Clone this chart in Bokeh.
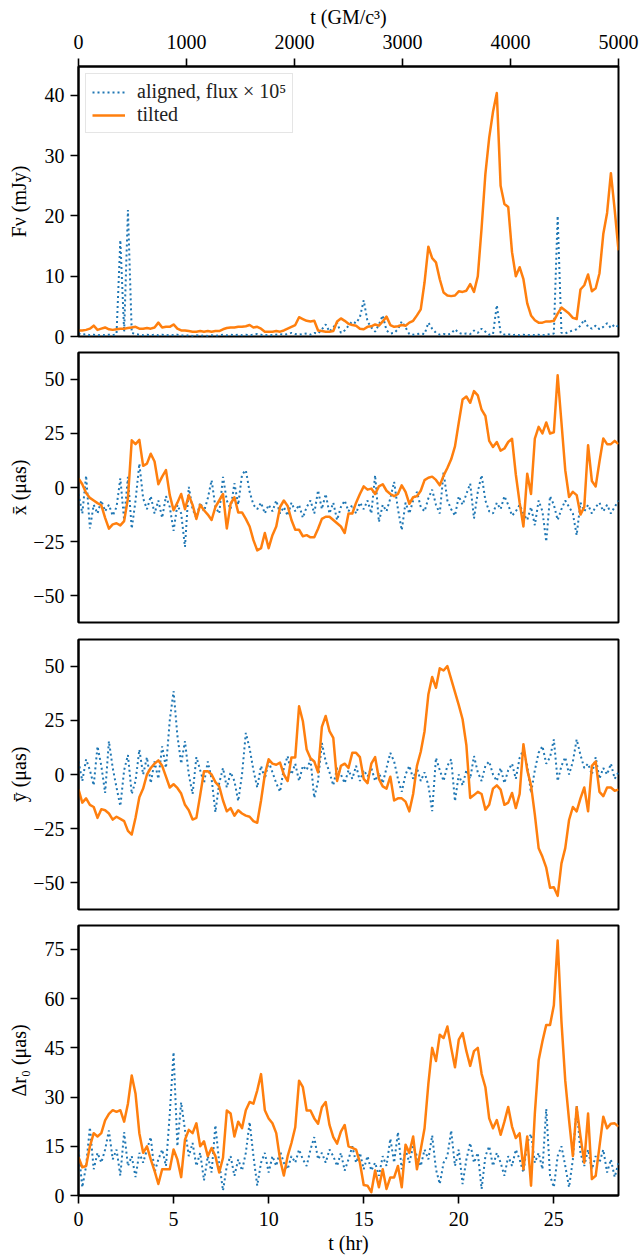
from bokeh.plotting import figure
from bokeh.layouts import column
from bokeh.models import Range1d, LinearAxis, FixedTicker, CustomJSTickFormatter
from bokeh.embed import file_html
from bokeh.resources import INLINE

# ---------------- data (sampled every 0.2 hr, t = 0 ... 28.4 hr) ----------------
DT_HR = 0.2
T_MAX_HR = 28.4
T_MAX_M = 5000  # GM/c^3

HR_TICKS = [0, 5, 10, 15, 20, 25]
M_TICKS = [0, 1000, 2000, 3000, 4000, 5000]
F_TICKS = [0, 10, 20, 30, 40]
XY_TICKS = [-50, -25, 0, 25, 50]
R_TICKS = [0, 15, 30, 45, 60, 75]

# F_nu (mJy)
F_TILTED = [
    1.0, 1.0, 1.1, 1.3, 1.8, 1.1, 1.3, 1.5, 1.2, 1.1,
    1.2, 1.3, 1.3, 1.4, 1.5, 1.6, 1.3, 1.3, 1.4, 1.3,
    1.5, 2.3, 1.5, 1.6, 1.6, 2.0, 1.3, 1.0, 1.0, 0.9,
    0.8, 0.8, 0.9, 0.8, 0.9, 0.8, 0.9, 0.9, 1.2, 1.4,
    1.5, 1.5, 1.6, 1.6, 1.7, 1.9, 1.5, 1.6, 1.3, 0.8,
    0.8, 0.8, 0.9, 0.8, 1.0, 1.3, 1.6, 1.9, 3.2, 2.9,
    2.6, 2.5, 2.6, 1.0, 0.9, 0.8, 0.8, 0.9, 2.5, 3.0,
    2.6, 2.1, 1.9, 1.8, 1.3, 1.2, 1.6, 1.7, 2.0, 1.8,
    2.5, 3.3, 1.9, 1.6, 1.7, 1.9, 1.8, 2.3, 2.6, 3.5,
    4.5, 9.0, 14.9, 13.0, 12.3, 9.5, 7.3, 6.8, 6.7, 6.8,
    7.5, 7.4, 7.6, 8.7, 7.4, 10.0, 18.0, 27.0, 33.0, 37.3,
    40.4, 25.0, 22.0, 21.5, 14.0, 10.0, 11.5, 9.5, 5.5, 3.5,
    2.7, 2.3, 2.3, 2.5, 2.5, 2.6, 3.8, 4.8, 4.3, 3.8,
    3.1, 2.9, 7.8, 8.5, 10.3, 7.5, 8.0, 10.5, 17.0, 20.5,
    27.1, 21.0, 14.3,
]
F_ALIGNED_X1E5 = [
    0.5, 0.3, 0.4, 0.2, 0.3, 0.2, 0.3, 0.2, 0.3, 0.2,
    0.4, 16.0, 0.8, 21.0, 0.6, 0.4, 0.3, 0.2, 0.3, 0.2,
    0.3, 0.2, 0.3, 0.2, 0.3, 0.2, 0.3, 0.2, 0.1, 0.2,
    0.1, 0.2, 0.1, 0.2, 0.1, 0.2, 0.1, 0.2, 0.3, 0.2,
    0.3, 0.2, 0.3, 0.2, 0.3, 0.2, 0.3, 0.4, 0.3, 0.2,
    0.3, 0.2, 0.3, 0.4, 0.3, 0.4, 0.6, 0.4, 0.3, 0.4,
    0.5, 0.3, 0.6, 0.5, 1.2, 2.0, 0.8, 1.5, 2.3, 0.6,
    1.0, 1.8, 2.5, 2.2, 3.2, 6.0, 2.5, 1.5, 0.8, 2.0,
    3.5, 1.0, 0.5, 0.6, 1.2, 2.5, 1.5, 0.4, 0.3, 0.4,
    0.5, 0.4, 2.3, 1.3, 0.6, 0.3, 0.4, 0.3, 0.5, 1.2,
    0.6, 0.4, 0.5, 0.4, 1.0, 0.6, 1.3, 0.8, 0.3, 0.4,
    5.2, 0.6, 0.3, 0.4, 0.2, 0.3, 0.2, 0.3, 0.2, 0.3,
    0.2, 0.3, 0.2, 0.3, 0.4, 0.5, 20.0, 0.6, 0.5, 0.8,
    1.0, 1.2, 1.8, 2.8, 1.6, 1.3, 1.8, 1.2, 1.6, 2.2,
    1.4, 2.0, 1.6,
]

# x-bar (micro-arcsec)
X_TILTED = [
    4.2, 1.5, -2.5, -4.8, -6.0, -7.2, -8.2, -14.0, -19.0, -17.0,
    -16.5, -17.5, -15.5, -5.0, 21.8, 20.0, 22.0, 10.0, 11.0, 15.6,
    12.0, 1.5, 5.0, 8.0, -3.5, -10.5, -7.0, -3.0, -10.0, -3.5,
    -8.0, -14.5, -8.0, -10.5, -12.5, -15.0, -9.0, -6.0, -3.0, -18.9,
    -7.5, -4.5, -11.5, -11.5, -14.5, -18.0, -24.3, -29.0, -28.0, -21.0,
    -28.0, -22.0, -18.0, -9.0, -6.0, -8.5, -15.0, -19.5, -19.5, -22.5,
    -22.0, -23.0, -23.0, -19.0, -14.5, -13.5, -13.5, -15.0, -16.5, -18.0,
    -21.0, -12.0, -12.0, -7.0, -3.0, 0.5, -1.0, -0.5, -3.0, 0.5,
    1.5, -1.5, -3.0, -4.0, -3.0, 1.0, -2.0, -7.5, -4.5, -4.0,
    -1.5, 3.4, 4.5, 5.0, 3.5, 1.0, 5.5, 9.0, 13.0, 19.0,
    30.0, 40.6, 42.0, 39.1, 44.5, 42.5, 35.9, 33.0, 21.5, 18.7,
    21.0, 17.0, 18.0, 21.0, 22.5, 6.0, -7.0, -18.0, 6.4, -3.0,
    22.6, 28.0, 25.0, 30.0, 24.9, 25.5, 51.8, 30.0, 8.0, -4.4,
    -2.0, -3.5, -12.5, -9.0, 19.5, 3.0, 0.5, 12.0, 22.6, 20.0,
    20.0, 21.5, 20.0,
]
X_ALIGNED = [
    -3, -12, 5.5, -18.9, -8, -12, -6, -11, -8, -13,
    -9, 4.2, -15, 4.9, -19, -6, 11.0, -5, -10, -4,
    -12, -6, -14, -4, -9, -20, -8, -12, -27.4, 0.3,
    -10, -14, -7, -11, -5, 3.4, -9, -12, 4.9, -6,
    -10, 2, -8, 6, 8, -2, -8, -10, -7, -12,
    -8, -11, -6, -12, -9, -13, -7, -11, -8, -14,
    -9, -6, -12, -1.3, -10, -3, -12, -7, -15, -9,
    -6, -11, -8, -12, -7, -10, -6, -12, 5.7, -15.9,
    -8, -11, -5, 2.6, -10, -19.7, -7, -12, -6, -2,
    -9, -11, -5, -1, -8, -12, 7.1, -6, -10, -13,
    -4, -8, -3, 1.8, -14.3, -2, 5.7, -6, -11, -12,
    -7, -10, -4, -8, -13, -11, -8, -12, -15, -9,
    -17.4, -6, -11, -25, -4, -8, -15, -10, -6, -9,
    -12, -22, -7, -11, -8, -12, -9, -7, -11, -8,
    -12, -9, -6,
]

# y-bar (micro-arcsec)
Y_TILTED = [
    -6.9, -13.0, -11.0, -14.0, -15.0, -20.0, -16.0, -16.5, -18.0, -20.8,
    -19.5, -20.5, -21.5, -26.0, -27.7, -20.0, -10.5, -6.5, 0.0, 3.0,
    5.0, 6.5, 4.0, -1.0, -6.0, -4.5, -6.2, -8.8, -14.0, -16.5,
    -20.8, -20.0, -9.5, 1.5, 1.5, 0.0, -3.5, -5.5, -12.0, -17.0,
    -15.5, -19.0, -16.5, -18.0, -19.0, -19.5, -21.5, -22.3, -12.0, 0.0,
    7.0, 5.0, 4.5, 5.5, 0.0, -3.0, 7.9, 7.9, 31.5, 24.6,
    11.5, 7.5, 6.0, 1.0, 22.0, 27.0, 20.0, 16.9, -3.0, 4.0,
    5.0, 3.0, 10.0, 10.0, 8.0, -2.0, -4.0, 5.0, 8.0, -2.0,
    -5.5, -6.5, -1.0, -12.0, -11.0, -11.0, -12.5, -17.0, -9.0, 4.0,
    10.5, 20.0, 36.9, 45.0, 40.0, 49.0, 48.0, 50.0, 44.0, 38.0,
    32.0, 25.5, 13.5, -10.8, -9.5, -8.0, -9.0, -16.2, -14.0, -6.5,
    -5.0, -7.0, -14.0, -13.0, -8.5, -15.5, -9.0, 14.0, 2.0, -5.0,
    -18.5, -34.0, -38.0, -43.0, -52.3, -52.0, -56.0, -41.0, -34.0, -21.0,
    -15.0, -17.0, -11.0, -6.0, -17.0, 4.0, 6.0, -8.0, -10.0, -6.0,
    -6.0, -7.5, -7.0,
]
Y_ALIGNED = [
    6, -3, 7, 2, -5, 13, 4, -8.5, 15.4, 3,
    -6, -14.6, 2, 9, -9, -3, 11.5, 0, 8, -4,
    6, -2, 13, 3, 25, 38.5, 18, 5, 15.4, 0,
    -9, 8, 2, -4, 6, -2, -17.4, -4, 3, -6,
    1, -3, -12.3, 0, 19.2, 12, 2, -6, 4, -2,
    6, 1, -4, -8, 3, 8.5, 0, 5, -3, 4,
    2, 7, -10.8, -3, 14.6, 6, 1, -5, 3, 0,
    -4, 2, -2, 4, -3, 2, -1, 3, -3, 1,
    -4, 3, 10, 6, -2, -8, 0, 4, -2, 3,
    -3, 1, -5, -16.9, 7.7, 2, -3, 4, 7, -12.3,
    0, -5, 2, -2, 8.5, 1, -3, 4, 6, 0,
    -3, 3, -4, 2, 5, -2, 7.7, 11.5, 4, -8.5,
    2, 10, 13.1, 5, 8, 16.2, -3, 4, 8, 0,
    6, 16.2, 9, 3, 5, 0, 8, -2, 3, 0,
    5, -2, 1,
]

# Delta r_0 (micro-arcsec)
R_TILTED = [
    11.7, 8.6, 9.0, 15.0, 19.0, 18.0, 19.0, 22.9, 24.9, 26.0,
    25.5, 26.0, 22.5, 28.0, 36.6, 31.0, 19.0, 13.0, 15.0, 11.0,
    7.5, 3.5, 8.0, 8.0, 8.0, 14.0, 11.0, 5.6, 17.0, 20.0,
    19.0, 22.0, 15.0, 16.5, 12.0, 14.5, 12.0, 7.0, 11.5, 25.9,
    25.0, 18.0, 22.5, 20.5, 26.0, 28.5, 28.0, 32.0, 37.0, 26.0,
    23.5, 22.0, 19.0, 11.0, 6.1, 12.0, 16.0, 20.8, 35.0, 33.0,
    25.9, 25.9, 23.5, 21.9, 26.9, 28.5, 21.5, 17.8, 15.8, 19.5,
    21.5, 15.0, 14.5, 14.0, 10.0, 3.2, 3.0, 1.0, 7.6, 2.5,
    8.0, 2.0, 5.5, 5.5, 9.0, 2.5, 15.5, 13.0, 18.0, 8.0,
    14.0, 20.5, 34.0, 45.0, 41.0, 49.0, 48.0, 51.5, 45.0, 39.1,
    47.5, 49.5, 44.0, 39.5, 44.0, 45.0, 37.1, 33.0, 23.5, 20.5,
    23.0, 18.5, 22.5, 27.0, 21.0, 17.5, 19.0, 8.0, 18.0, 3.0,
    25.0, 41.2, 47.0, 52.0, 52.0, 58.0, 77.7, 53.0, 35.0, 23.0,
    12.0, 26.9, 18.0, 10.0, 25.0, 5.0, 6.0, 15.0, 24.0, 20.5,
    21.9, 22.0, 21.0,
]
R_ALIGNED = [
    14, 2.5, 9, 20.8, 8, 13, 10, 14, 19.8, 11,
    14, 6.1, 19.3, 9, 12, 5.6, 13, 10, 14, 17.8,
    7, 11, 14, 9, 24.9, 43.7, 15, 28.4, 20, 12,
    16, 9, 13, 4.6, 12, 7, 21.4, 10, 1.5, 9,
    12, 6, 11, 7.6, 13, 22.4, 12, 3.0, 10, 13,
    7, 12, 9, 13.5, 10, 8, 12, 10, 14, 11,
    9, 14, 17.8, 11, 13, 10, 14, 12, 9, 13,
    7.6, 11, 15, 10, 13, 8, 12, 7.6, 10, 6,
    12, 9, 17.3, 10, 19.3, 8, 14, 10, 15, 12,
    9, 14, 11, 18.3, 8, 3.5, 10, 12, 19.8, 9,
    14, 3.5, 11, 16, 10, 13, 2.0, 12, 15, 9,
    13, 10, 6, 12, 9, 14, 11, 7, 16, 18.8,
    10, 13, 8, 26.4, 6, 2.5, 12, 15, 9, 2.5,
    11, 27.4, 13, 9, 14, 8, 12, 10, 14, 7,
    11, 5.6, 10,
]

LABEL_ALIGNED = "aligned, flux \u00d7 10\u2075"
LABEL_TILTED = "tilted"

# ---------------- styling ----------------
FONT = "Liberation Serif"
BLUE = "#1f77b4"
ORANGE = "#ff7f0e"
TICK_FS = "20px"
LABEL_FS = "20px"

MINUS_FMT = CustomJSTickFormatter(
    code="return tick < 0 ? '\u2212' + Math.abs(tick) : String(tick);")


def times(vals):
    return [round(DT_HR * i, 1) for i in range(len(vals))]


def style_axis(ax, label, label_standoff, tick_standoff=6):
    ax.axis_label = label
    ax.axis_label_text_font = FONT
    ax.axis_label_text_font_size = LABEL_FS
    ax.axis_label_text_font_style = "normal"
    ax.axis_label_text_color = "black"
    ax.axis_label_standoff = label_standoff
    ax.major_label_text_font = FONT
    ax.major_label_text_font_size = TICK_FS
    ax.major_label_text_color = "black"
    ax.major_label_standoff = tick_standoff
    ax.axis_line_color = "black"
    ax.axis_line_width = 2
    ax.major_tick_line_color = "black"
    ax.major_tick_line_width = 1.6
    ax.major_tick_out = 8
    ax.major_tick_in = 0
    ax.minor_tick_out = 0
    ax.minor_tick_in = 0


def make_fig(y_lo, y_hi, yticks, ylabel, ylabel_standoff, border_top, border_bottom,
             top=False, bottom=False):
    p = figure(frame_width=540, frame_height=270,
               output_backend="svg", toolbar_location=None,
               x_range=Range1d(0, T_MAX_HR), y_range=Range1d(y_lo, y_hi),
               x_axis_location="below" if bottom else None,
               min_border_left=78, min_border_right=24,
               min_border_top=border_top, min_border_bottom=border_bottom)
    p.outline_line_color = "black"
    p.outline_line_width = 2
    p.outline_line_alpha = 1
    p.background_fill_color = "white"
    p.border_fill_color = "white"
    for g in p.grid:
        g.visible = False
    ax = p.yaxis[0]
    ax.ticker = FixedTicker(ticks=yticks)
    ax.formatter = MINUS_FMT
    style_axis(ax, ylabel, ylabel_standoff)
    if bottom:
        bx = p.xaxis[0]
        bx.ticker = FixedTicker(ticks=HR_TICKS)
        style_axis(bx, "t (hr)", 3, tick_standoff=8)
    if top:
        p.extra_x_ranges = {"gm": Range1d(0, T_MAX_M)}
        tx = LinearAxis(x_range_name="gm", ticker=FixedTicker(ticks=M_TICKS))
        style_axis(tx, "t (GM/c\u00b3)", 4, tick_standoff=10)
        p.add_layout(tx, "above")
    return p


def add_series(p, aligned, tilted, legend=False):
    kw_a = dict(legend_label=LABEL_ALIGNED) if legend else {}
    kw_t = dict(legend_label=LABEL_TILTED) if legend else {}
    p.line(times(aligned), aligned, line_color=BLUE, line_width=2,
           line_dash="2 3", **kw_a)
    p.line(times(tilted), tilted, line_color=ORANGE, line_width=2.5,
           line_join="round", **kw_t)


p1 = make_fig(0, 44.8, F_TICKS, "F\u03bd (mJy)", 12, 66, 12, top=True)
add_series(p1, F_ALIGNED_X1E5, F_TILTED, legend=True)
lg = p1.legend[0]
lg.location = "top_left"
lg.margin = 7
lg.padding = 6
lg.spacing = 0
lg.glyph_width = 33
lg.glyph_height = 20
lg.label_height = 20
lg.label_standoff = 12
lg.label_text_font = FONT
lg.label_text_font_size = "20px"
lg.label_text_color = "#222222"
lg.border_line_color = "#cccccc"
lg.border_line_width = 1.5
lg.background_fill_alpha = 0.85

p2 = make_fig(-62.3, 62.3, XY_TICKS, "x\u0304 (\u03bcas)", 0, 4, 8)
add_series(p2, X_ALIGNED, X_TILTED)

p3 = make_fig(-62.3, 62.3, XY_TICKS, "\u0233 (\u03bcas)", 0, 9, 8)
add_series(p3, Y_ALIGNED, Y_TILTED)

p4 = make_fig(0, 82.3, R_TICKS, "\u0394r\u2080 (\u03bcas)", 12, 8, 8, bottom=True)
add_series(p4, R_ALIGNED, R_TILTED)

layout = column(p1, p2, p3, p4, spacing=0)

with open("out.html", "w", encoding="utf-8") as fh:
    fh.write(file_html(layout, INLINE))
